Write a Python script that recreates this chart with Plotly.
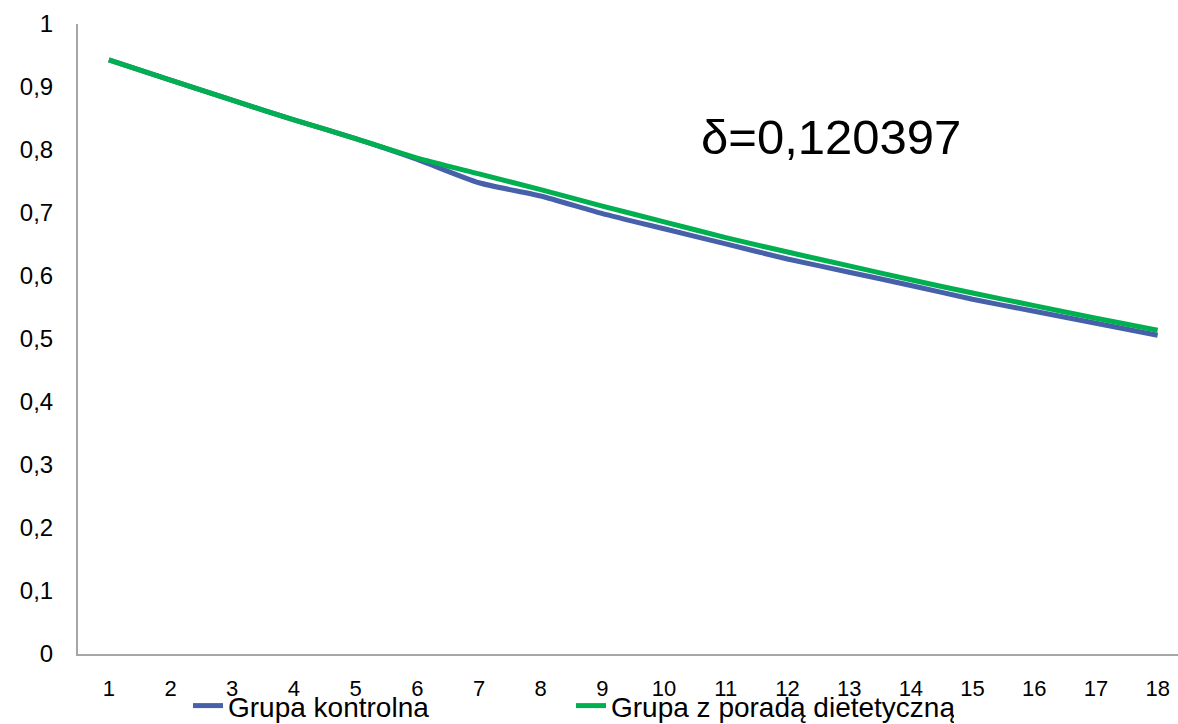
import plotly.graph_objects as go

# Measurement points (kolejne okresy)
periods = list(range(1, 19))

# Survival-type curves for the two groups
grupa_kontrolna = [0.943, 0.911, 0.879, 0.848, 0.818, 0.785, 0.748, 0.727, 0.699,
                   0.675, 0.651, 0.627, 0.606, 0.585, 0.563, 0.544, 0.525, 0.506]
grupa_porada = [0.943, 0.911, 0.879, 0.848, 0.818, 0.787, 0.762, 0.737, 0.711,
                0.686, 0.661, 0.638, 0.616, 0.594, 0.573, 0.553, 0.533, 0.514]

y_ticks = [0, 0.1, 0.2, 0.3, 0.4, 0.5, 0.6, 0.7, 0.8, 0.9, 1]
y_tick_text = ["0", "0,1", "0,2", "0,3", "0,4", "0,5", "0,6", "0,7", "0,8", "0,9", "1"]

delta_label = "δ=0,120397"

FONT = "Liberation Sans, Arial, sans-serif"

fig = go.Figure()
fig.add_trace(go.Scatter(
    x=periods, y=grupa_kontrolna, mode="lines", name="Grupa kontrolna",
    line=dict(color="#4660AA", width=5, shape="spline", smoothing=0.6),
))
fig.add_trace(go.Scatter(
    x=periods, y=grupa_porada, mode="lines", name="Grupa z poradą dietetyczną",
    line=dict(color="#00B050", width=5, shape="spline", smoothing=0.6),
))

fig.add_annotation(
    x=(699 - 78) / 1100, y=0.82, xref="paper", yref="paper",
    text=delta_label, showarrow=False, xanchor="left", yanchor="middle",
    font=dict(family=FONT, size=49, color="#000000"),
)

fig.update_layout(
    width=1178, height=724,
    margin=dict(l=78, r=0, t=24, b=70, autoexpand=False),
    paper_bgcolor="white", plot_bgcolor="white",
    font=dict(family=FONT, color="#000000"),
    showlegend=True,
    legend=dict(
        orientation="h", xref="container", yref="container",
        x=0.1596, y=0.025, xanchor="left", yanchor="middle",
        font=dict(family=FONT, size=28, color="#000000"),
        entrywidth=338, entrywidthmode="pixels",
        bgcolor="rgba(0,0,0,0)", itemsizing="constant",
        tracegroupgap=0,
    ),
    xaxis=dict(
        range=[0.5, 18.33], tickmode="array", tickvals=periods,
        ticktext=[str(p) for p in periods],
        showgrid=False, zeroline=False, showline=True,
        linecolor="#A6A6A6", linewidth=2, ticks="",
        ticklabelstandoff=14,
        tickfont=dict(family=FONT, size=22, color="#000000"),
    ),
    yaxis=dict(
        range=[0, 1], tickmode="array", tickvals=y_ticks, ticktext=y_tick_text,
        showgrid=False, zeroline=False, showline=True,
        linecolor="#A6A6A6", linewidth=2, ticks="",
        ticklabelstandoff=18,
        tickfont=dict(family=FONT, size=24, color="#000000"),
    ),
)

fig.write_html("out.html")
